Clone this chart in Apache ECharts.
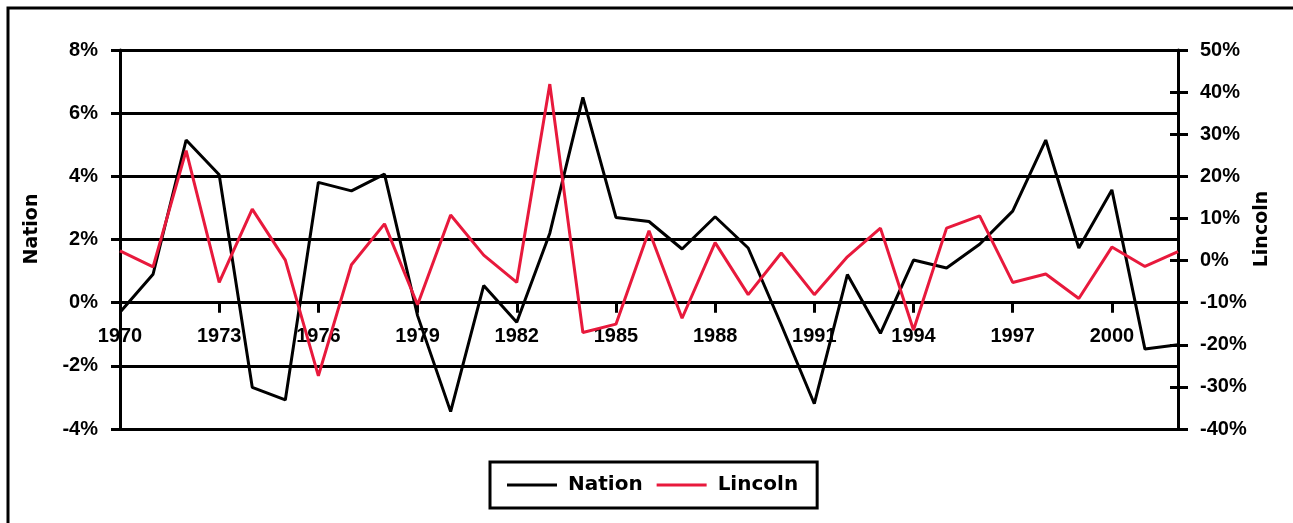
<!DOCTYPE html>
<html>
<head>
<meta charset="utf-8">
<script src="https://cdn.jsdelivr.net/npm/echarts@6/dist/echarts.min.js"></script>
<style>html,body{margin:0;padding:0;background:#fff;}#c{width:1293px;height:523px;}</style>
</head>
<body>
<div id="c"></div>
<script>
var years = [];
for (var y = 1970; y <= 2002; y++) years.push(String(y));
var nation = [-0.3, 0.9, 5.15, 4.05, -2.68, -3.08, 3.81, 3.54, 4.07, -0.41, -3.45, 0.54, -0.62, 2.2, 6.5, 2.7, 2.57, 1.7, 2.72, 1.73, -0.7, -3.2, 0.89, -0.97, 1.35, 1.1, 1.85, 2.9, 5.15, 1.73, 3.57, -1.47, -1.33];
var lincoln = [2.3, -1.5, 26.1, -5.2, 12.2, 0.1, -27.4, -1.0, 8.7, -10.5, 10.8, 1.3, -5.2, 41.9, -17.1, -15.1, 7.1, -13.7, 4.25, -8.1, 1.8, -8.1, 0.9, 7.7, -16.5, 7.7, 10.6, -5.2, -3.2, -9.0, 3.2, -1.4, 2.1];
var leftTicks = {min: -4, max: 8, interval: 2};
var rightTicks = {min: -40, max: 50, interval: 10};

var RED = '#e8193c';
var tickFont = {color: '#000', fontFamily: 'Liberation Sans, Arial, sans-serif', fontWeight: 'bold', fontSize: 20};
var nameFont = 'bold 19px "DejaVu Sans", sans-serif';

var GRID_TOP = 50, GRID_BOTTOM_PX = 429;
// pixel offset of the zero line above the grid bottom (derived from left axis range)
var zeroOffset = (GRID_BOTTOM_PX - GRID_TOP) * (0 - leftTicks.min) / (leftTicks.max - leftTicks.min);

var chart = echarts.init(document.getElementById('c'), null, {renderer: 'canvas'});
chart.setOption({
  animation: false,
  backgroundColor: '#fff',
  grid: {left: 120, right: 115, top: GRID_TOP, bottom: 523 - GRID_BOTTOM_PX, containLabel: false},
  graphic: [
    {type: 'rect', z: 100, shape: {x: 8, y: 8, width: 1400, height: 600}, style: {fill: 'none', stroke: '#000', lineWidth: 3}},
    {type: 'text', z: 100, x: 32, y: 229, rotation: Math.PI / 2, style: {text: 'Nation', font: nameFont, fill: '#000', align: 'center', verticalAlign: 'middle'}},
    {type: 'text', z: 100, x: 1262, y: 229, rotation: Math.PI / 2, style: {text: 'Lincoln', font: nameFont, fill: '#000', align: 'center', verticalAlign: 'middle'}}
  ],
  legend: {
    left: 490, top: 462,
    padding: [13, 19, 13, 17],
    borderColor: '#000', borderWidth: 3,
    itemWidth: 50, itemHeight: 3, itemGap: 14,
    icon: 'rect',
    textStyle: {color: '#000', fontFamily: 'DejaVu Sans, sans-serif', fontWeight: 'bold', fontSize: 20, padding: [0, 0, 0, 6]},
    data: ['Nation', 'Lincoln']
  },
  xAxis: {
    type: 'category', data: years, boundaryGap: false,
    position: 'bottom', offset: -zeroOffset,
    axisLine: {onZero: false, lineStyle: {color: '#000', width: 3}},
    axisTick: {show: true, interval: 2, length: 10, lineStyle: {color: '#000', width: 3}},
    axisLabel: Object.assign({interval: 2, margin: 24}, tickFont),
    splitLine: {show: false}
  },
  yAxis: [
    {
      type: 'value', position: 'left', min: leftTicks.min, max: leftTicks.max, interval: leftTicks.interval,
      axisLine: {show: true, lineStyle: {color: '#000', width: 3}},
      axisTick: {show: true, length: 9, lineStyle: {color: '#000', width: 3}},
      axisLabel: Object.assign({margin: 22, formatter: '{value}%'}, tickFont),
      splitLine: {show: true, lineStyle: {color: '#000', width: 3}}
    },
    {
      type: 'value', position: 'right', offset: 0, min: rightTicks.min, max: rightTicks.max, interval: rightTicks.interval,
      axisLine: {show: true, lineStyle: {color: '#000', width: 3}},
      axisTick: {show: true, length: 10, lineStyle: {color: '#000', width: 3}},
      axisLabel: Object.assign({margin: 22, formatter: '{value}%'}, tickFont),
      splitLine: {show: false}
    },
    {
      type: 'value', position: 'right', offset: 0, min: rightTicks.min, max: rightTicks.max, interval: rightTicks.interval,
      axisLine: {show: false},
      axisTick: {show: true, inside: true, length: 8, lineStyle: {color: '#000', width: 3}},
      axisLabel: {show: false},
      splitLine: {show: false}
    }
  ],
  series: [
    {name: 'Nation', type: 'line', yAxisIndex: 0, data: nation, symbol: 'none', lineStyle: {color: '#000', width: 3}, itemStyle: {color: '#000'}, z: 3},
    {name: 'Lincoln', type: 'line', yAxisIndex: 1, data: lincoln, symbol: 'none', lineStyle: {color: RED, width: 3}, itemStyle: {color: RED}, z: 4}
  ]
});
</script>
</body>
</html>
